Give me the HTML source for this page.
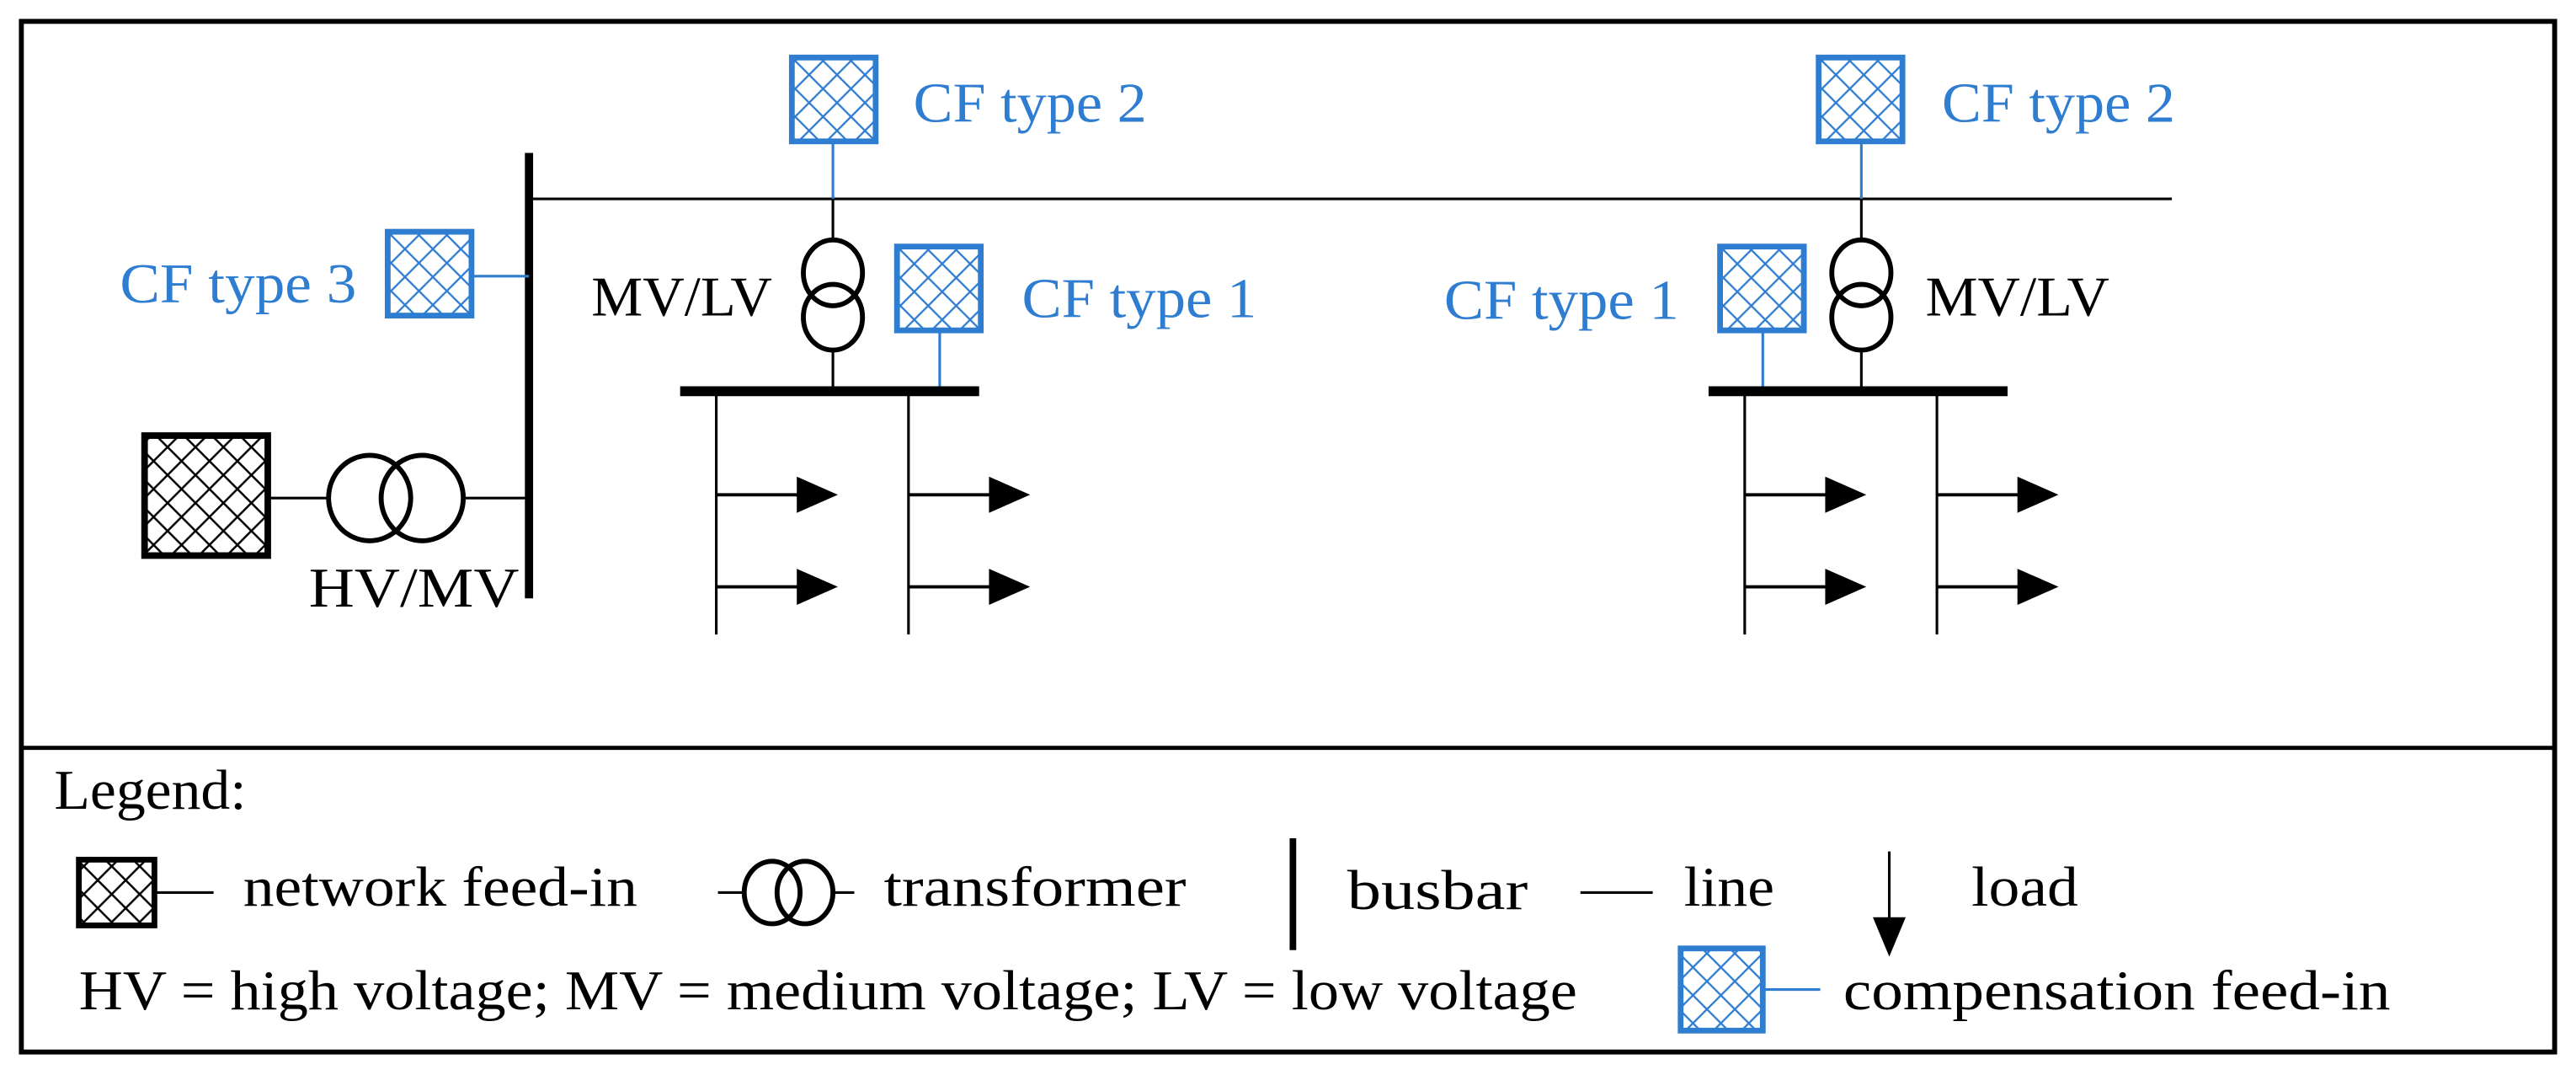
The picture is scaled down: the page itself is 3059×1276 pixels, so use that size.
<!DOCTYPE html>
<html><head><meta charset="utf-8"><style>
html,body{margin:0;padding:0;background:#fff}
svg{display:block}
text{font-family:"Liberation Serif",serif;font-size:34px}
.b{fill:#2f7dd1}
</style></head><body>
<svg width="3059" height="1276" viewBox="0 0 1568 654" preserveAspectRatio="none" xmlns="http://www.w3.org/2000/svg">
<defs>
<pattern id="hk" width="17" height="17" patternUnits="userSpaceOnUse">
<path d="M0 0L17 17M17 0L0 17" stroke="#000" stroke-width="1.3"/>
</pattern>
<pattern id="hb" width="17" height="17" patternUnits="userSpaceOnUse" x="2" y="2">
<path d="M0 0L17 17M17 0L0 17" stroke="#2f7dd1" stroke-width="1.2"/>
</pattern>
<g id="cf"><rect x="0" y="0" width="51" height="51" fill="url(#hb)" stroke="#2f7dd1" stroke-width="3.5"/></g>
<g id="arr"><line x1="0" y1="0" x2="50" y2="0" stroke="#000" stroke-width="2"/><path d="M49 -11L74 0L49 11Z" fill="#000"/></g>
</defs>
<rect x="13" y="13" width="1542" height="627" fill="none" stroke="#000" stroke-width="3"/>
<line x1="13" y1="455" x2="1555" y2="455" stroke="#000" stroke-width="2.5"/>

<line x1="322" y1="93" x2="322" y2="364" stroke="#000" stroke-width="5"/>
<line x1="322" y1="121" x2="1322" y2="121" stroke="#000" stroke-width="1.6"/>
<use href="#cf" x="236" y="141"/>
<line x1="288" y1="168" x2="322" y2="168" stroke="#2f7dd1" stroke-width="1.6"/>
<text x="73" y="184" class="b" textLength="144" lengthAdjust="spacingAndGlyphs">CF type 3</text>
<rect x="88" y="265" width="75" height="73" fill="url(#hk)" stroke="#000" stroke-width="4"/>
<line x1="163" y1="303" x2="200" y2="303" stroke="#000" stroke-width="1.6"/>
<ellipse cx="225" cy="303" rx="25" ry="26" fill="none" stroke="#000" stroke-width="3"/>
<ellipse cx="257" cy="303" rx="25" ry="26" fill="none" stroke="#000" stroke-width="3"/>
<line x1="282" y1="303" x2="322" y2="303" stroke="#000" stroke-width="1.6"/>
<text x="188" y="369" textLength="128" lengthAdjust="spacingAndGlyphs">HV/MV</text>

<use href="#cf" x="482" y="35"/>
<line x1="507" y1="87" x2="507" y2="121" stroke="#2f7dd1" stroke-width="1.6"/>
<text x="556" y="74" class="b" textLength="142" lengthAdjust="spacingAndGlyphs">CF type 2</text>
<line x1="507" y1="121" x2="507" y2="146" stroke="#000" stroke-width="1.6"/>
<ellipse cx="507" cy="166" rx="18" ry="20" fill="none" stroke="#000" stroke-width="3"/>
<ellipse cx="507" cy="193" rx="18" ry="20" fill="none" stroke="#000" stroke-width="3"/>
<line x1="507" y1="213" x2="507" y2="238" stroke="#000" stroke-width="1.6"/>
<text x="360" y="192" textLength="110" lengthAdjust="spacingAndGlyphs">MV/LV</text>
<use href="#cf" x="546" y="150"/>
<line x1="572" y1="201" x2="572" y2="238" stroke="#2f7dd1" stroke-width="1.6"/>
<text x="622" y="193" class="b" textLength="143" lengthAdjust="spacingAndGlyphs">CF type 1</text>
<line x1="414" y1="238" x2="596" y2="238" stroke="#000" stroke-width="6"/>
<line x1="436" y1="238" x2="436" y2="386" stroke="#000" stroke-width="1.6"/>
<line x1="553" y1="238" x2="553" y2="386" stroke="#000" stroke-width="1.6"/>
<use href="#arr" x="436" y="301"/><use href="#arr" x="436" y="357"/>
<use href="#arr" x="553" y="301"/><use href="#arr" x="553" y="357"/>

<use href="#cf" x="1107" y="35"/>
<line x1="1133" y1="87" x2="1133" y2="121" stroke="#2f7dd1" stroke-width="1.6"/>
<text x="1182" y="74" class="b" textLength="142" lengthAdjust="spacingAndGlyphs">CF type 2</text>
<line x1="1133" y1="121" x2="1133" y2="146" stroke="#000" stroke-width="1.6"/>
<ellipse cx="1133" cy="166" rx="18" ry="20" fill="none" stroke="#000" stroke-width="3"/>
<ellipse cx="1133" cy="193" rx="18" ry="20" fill="none" stroke="#000" stroke-width="3"/>
<line x1="1133" y1="213" x2="1133" y2="238" stroke="#000" stroke-width="1.6"/>
<text x="1172" y="192" textLength="112" lengthAdjust="spacingAndGlyphs">MV/LV</text>
<use href="#cf" x="1047" y="150"/>
<line x1="1073" y1="201" x2="1073" y2="238" stroke="#2f7dd1" stroke-width="1.6"/>
<text x="879" y="194" class="b" textLength="143" lengthAdjust="spacingAndGlyphs">CF type 1</text>
<line x1="1040" y1="238" x2="1222" y2="238" stroke="#000" stroke-width="6"/>
<line x1="1062" y1="238" x2="1062" y2="386" stroke="#000" stroke-width="1.6"/>
<line x1="1179" y1="238" x2="1179" y2="386" stroke="#000" stroke-width="1.6"/>
<use href="#arr" x="1062" y="301"/><use href="#arr" x="1062" y="357"/>
<use href="#arr" x="1179" y="301"/><use href="#arr" x="1179" y="357"/>

<text x="33" y="492" textLength="117" lengthAdjust="spacingAndGlyphs">Legend:</text>
<rect x="48" y="523" width="46" height="40" fill="url(#hk)" stroke="#000" stroke-width="3.5"/>
<line x1="94" y1="543" x2="130" y2="543" stroke="#000" stroke-width="1.6"/>
<text x="148" y="551" textLength="240" lengthAdjust="spacingAndGlyphs">network feed-in</text>
<line x1="437" y1="543" x2="452" y2="543" stroke="#000" stroke-width="1.6"/>
<ellipse cx="470" cy="543" rx="17" ry="19" fill="none" stroke="#000" stroke-width="3"/>
<ellipse cx="490" cy="543" rx="17" ry="19" fill="none" stroke="#000" stroke-width="3"/>
<line x1="507" y1="543" x2="520" y2="543" stroke="#000" stroke-width="1.6"/>
<text x="538" y="551" textLength="184" lengthAdjust="spacingAndGlyphs">transformer</text>
<line x1="787" y1="510" x2="787" y2="578" stroke="#000" stroke-width="4"/>
<text x="820" y="553" textLength="110" lengthAdjust="spacingAndGlyphs">busbar</text>
<line x1="962" y1="543" x2="1006" y2="543" stroke="#000" stroke-width="1.6"/>
<text x="1025" y="551" textLength="55" lengthAdjust="spacingAndGlyphs">line</text>
<line x1="1150" y1="518" x2="1150" y2="562" stroke="#000" stroke-width="1.6"/>
<path d="M1140 558L1160 558L1150 582Z" fill="#000"/>
<text x="1200" y="551" textLength="65" lengthAdjust="spacingAndGlyphs">load</text>
<text x="48" y="614" textLength="912" lengthAdjust="spacingAndGlyphs">HV = high voltage; MV = medium voltage; LV = low voltage</text>
<rect x="1023" y="577" width="50" height="50" fill="url(#hb)" stroke="#2f7dd1" stroke-width="3.5"/>
<line x1="1073" y1="602" x2="1108" y2="602" stroke="#2f7dd1" stroke-width="1.6"/>
<text x="1122" y="614" textLength="333" lengthAdjust="spacingAndGlyphs">compensation feed-in</text>
</svg>
</body></html>
